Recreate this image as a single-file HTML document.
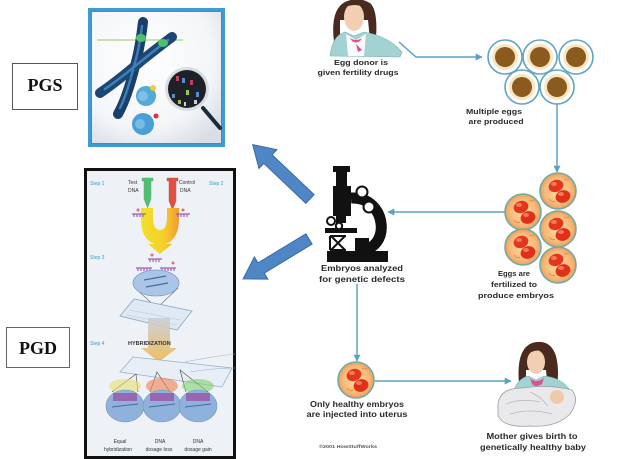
<!DOCTYPE html>
<html><head><meta charset="utf-8"><style>
html,body{margin:0;padding:0;background:#fff;}
svg{display:block;}
text{font-family:"Liberation Sans",Arial,sans-serif;}
</style></head><body>
<svg width="625" height="459" viewBox="0 0 625 459" xmlns="http://www.w3.org/2000/svg">
<defs>
 <radialGradient id="emb" cx="50%" cy="50%" r="50%">
  <stop offset="0" stop-color="#fcdca6"/><stop offset="0.75" stop-color="#f7b878"/><stop offset="1" stop-color="#ee9f58"/>
 </radialGradient>
 <radialGradient id="pgsbg" cx="40%" cy="35%" r="75%">
  <stop offset="0" stop-color="#ffffff"/><stop offset="0.7" stop-color="#f3f5f8"/><stop offset="1" stop-color="#d9dee6"/>
 </radialGradient>
 <linearGradient id="garrow" x1="0" y1="0" x2="0" y2="1">
  <stop offset="0" stop-color="#c9ced8"/><stop offset="1" stop-color="#f0b850"/>
 </linearGradient>
 <linearGradient id="yu" x1="0" y1="0" x2="1" y2="0">
  <stop offset="0" stop-color="#f2e02a"/><stop offset="0.6" stop-color="#f4d02a"/><stop offset="1" stop-color="#f29a30"/>
 </linearGradient>
 <marker id="ah" viewBox="0 0 10 10" refX="9" refY="5" markerUnits="userSpaceOnUse" markerWidth="7" markerHeight="7" orient="auto">
  <path d="M0,0 L10,5 L0,10 z" fill="#5aa2c4"/>
 </marker>
 <g id="embryo">
  <circle r="18" fill="url(#emb)" stroke="#72aaa6" stroke-width="1.6"/>
  <path d="M-9,8 q3,4 6,2 M6,-12 q3,2 5,0" stroke="#d98a40" stroke-width="0.8" fill="none"/>
  <ellipse cx="-2" cy="-5" rx="7.5" ry="6" transform="rotate(-20 -2 -5)" fill="#e3361d"/>
  <ellipse cx="5" cy="5.5" rx="7.5" ry="6.2" transform="rotate(-20 5 5.5)" fill="#e0301a"/>
  <ellipse cx="-4" cy="-7" rx="3" ry="2" fill="#f07a5a"/>
  <ellipse cx="3" cy="3" rx="3" ry="2" fill="#f07a5a"/>
 </g>
 <g id="egg">
  <circle r="17" fill="#fdfdfb" stroke="#5ea6c4" stroke-width="1.6"/>
  <circle r="13" fill="#f7e6bf"/>
  <circle r="10" fill="#8a5a1e"/>
 </g>
</defs>

<!-- PGS label box -->
<rect x="12.5" y="63.5" width="65" height="46" fill="#fff" stroke="#555" stroke-width="1"/>
<text x="45" y="91" text-anchor="middle" font-weight="bold" font-size="18" fill="#111" style="font-family:'Liberation Serif',serif">PGS</text>

<!-- PGD label box -->
<rect x="6.5" y="327.5" width="63" height="40" fill="#fff" stroke="#666" stroke-width="1"/>
<text x="38" y="354" text-anchor="middle" font-weight="bold" font-size="18" fill="#111" style="font-family:'Liberation Serif',serif">PGD</text>

<!-- PGS image -->
<rect x="89.5" y="9.5" width="134" height="136" fill="url(#pgsbg)" stroke="#3f9bd6" stroke-width="3"/>
<rect x="91.5" y="11.5" width="130" height="132" fill="none" stroke="#2a6fa8" stroke-width="0.8"/>
<line x1="97" y1="40" x2="183" y2="40" stroke="#bcd896" stroke-width="1.5"/>
<path d="M143,22 Q140,48 135,66 Q127,98 118,114" stroke="#1b3e6c" stroke-width="10" stroke-linecap="round" fill="none"/>
<path d="M172,37 Q152,52 135,66 Q116,82 100,93" stroke="#1d4677" stroke-width="10" stroke-linecap="round" fill="none"/>
<path d="M142,26 Q139,50 134,66 Q127,94 120,108" stroke="#3c7fb0" stroke-width="2.5" stroke-linecap="round" fill="none"/>
<path d="M168,40 Q150,54 134,67 Q118,80 105,89" stroke="#3c82b4" stroke-width="2.5" stroke-linecap="round" fill="none"/>
<ellipse cx="141" cy="38" rx="5" ry="4" fill="#4cc070"/>
<ellipse cx="163" cy="43" rx="5" ry="4" fill="#4cc070"/>
<circle cx="146" cy="96" r="10" fill="#55a8d8"/>
<circle cx="143" cy="124" r="11" fill="#4a9fd6"/>
<circle cx="143" cy="96" r="5" fill="#7cc0e6"/>
<circle cx="140" cy="124" r="5" fill="#78bce4"/>
<circle cx="153" cy="88" r="3" fill="#e8d030"/>
<circle cx="156" cy="116" r="2.5" fill="#e03040"/>
<line x1="203" y1="108" x2="220" y2="128" stroke="#1a2a3a" stroke-width="4" stroke-linecap="round"/>
<circle cx="187" cy="89" r="22" fill="#d8dde2"/>
<circle cx="187" cy="89" r="19" fill="#1c2228"/>
<g fill="#c04060"><rect x="176" y="76" width="3" height="5"/><rect x="190" y="80" width="3" height="5"/></g>
<g fill="#5a8acc"><rect x="182" y="78" width="3" height="5"/><rect x="196" y="92" width="3" height="5"/><rect x="172" y="94" width="3" height="4"/></g>
<g fill="#a0c050"><rect x="186" y="90" width="3" height="5"/><rect x="178" y="100" width="3" height="4"/></g>
<g fill="#d0d0d0"><rect x="194" y="100" width="3" height="4"/><rect x="184" y="102" width="2" height="4"/></g>

<!-- PGD image -->
<rect x="85.5" y="169.5" width="149" height="288" fill="#eef2f6" stroke="#111" stroke-width="3"/>
<g font-size="5" fill="#3a9cc4">
 <text x="90" y="185">Step 1</text>
 <text x="209" y="185">Step 2</text>
 <text x="90" y="259">Step 3</text>
 <text x="90" y="345">Step 4</text>
</g>
<g font-size="5" fill="#333">
 <text x="128" y="184">Test</text><text x="128" y="192">DNA</text>
 <text x="179" y="184">Control</text><text x="180" y="192">DNA</text>
</g>
<path d="M142,178 h11 v3 h-2 v18 l-3.5,9 l-3.5,-9 v-18 h-2z" fill="#50c070" stroke="#6a8" stroke-width="0.5"/>
<path d="M167,178 h11 v3 h-2 v20 l-3.5,9 l-3.5,-9 v-20 h-2z" fill="#e05040" stroke="#a66" stroke-width="0.5"/>
<path d="M141,208 h12 v8 q0,14 7,14 q7,0 7,-14 v-8 h12 v10 q0,22 -14,26 v0 h7 l-12,10 l-12,-10 h7 q-14,-4 -14,-26z" fill="url(#yu)"/>
<g stroke="#a060b8" stroke-width="1.2" fill="none">
 <path d="M132,214 h14 M134,214 v3 M137,214 v3 M140,214 v3 M143,214 v3"/>
 <path d="M176,214 h14 M178,214 v3 M181,214 v3 M184,214 v3 M187,214 v3"/>
 <path d="M148,259 h14 M150,259 v3 M153,259 v3 M156,259 v3 M159,259 v3"/>
 <path d="M136,268 h16 M138,268 v3 M141,268 v3 M144,268 v3 M147,268 v3 M150,268 v3"/>
 <path d="M160,268 h16 M162,268 v3 M165,268 v3 M168,268 v3 M171,268 v3 M174,268 v3"/>
</g>
<g fill="#e07070"><circle cx="138" cy="210" r="1.5"/><circle cx="183" cy="210" r="1.5"/><circle cx="152" cy="255" r="1.5"/><circle cx="173" cy="263" r="1.5"/></g>
<path d="M135,288 L157,308 L178,288" fill="none" stroke="#666" stroke-width="0.6"/>
<ellipse cx="156" cy="283" rx="23" ry="13" fill="#a9c6e6" stroke="#7a9ec8" stroke-width="0.8"/>
<g stroke="#4a6a9a" stroke-width="1.2"><line x1="144" y1="280" x2="166" y2="276"/><line x1="146" y1="287" x2="168" y2="283"/></g>
<path d="M120,316 L134,299 L192,311 L177,330 z" fill="#dfe9f4" stroke="#8aa6c6" stroke-width="0.8"/>
<g stroke="#b0c4dc" stroke-width="0.6"><line x1="130" y1="310" x2="180" y2="320"/><line x1="127" y1="315" x2="177" y2="325"/></g>
<path d="M148,318 h22 v30 h7 l-18,14 l-18,-14 h7z" fill="url(#garrow)" opacity="0.9"/>
<text x="128" y="345" font-size="5.5" font-weight="bold" fill="#333">HYBRIDIZATION</text>
<path d="M120,372 L133,357 L232,368 L222,387 z" fill="#e8eef6" stroke="#9ab0cc" stroke-width="0.8"/>
<path d="M185,362 q30,-6 50,-8 M190,372 q25,-4 45,-4" stroke="#9ab0cc" stroke-width="0.6" fill="none"/>
<g stroke="#444" stroke-width="0.6" fill="none">
 <path d="M112,392 L136,374 L138,392"/>
 <path d="M150,392 L157,372 L170,392"/>
 <path d="M186,392 L180,370 L208,392"/>
</g>
<ellipse cx="125" cy="386" rx="16" ry="7" fill="#e8e070" opacity="0.6"/>
<ellipse cx="162" cy="386" rx="16" ry="8" fill="#f08050" opacity="0.6"/>
<ellipse cx="198" cy="386" rx="16" ry="7" fill="#80d070" opacity="0.6"/>
<g fill="#8fb2dc" stroke="#7096c4" stroke-width="0.6">
 <ellipse cx="125" cy="406" rx="19" ry="16"/>
 <ellipse cx="162" cy="406" rx="19" ry="16"/>
 <ellipse cx="198" cy="406" rx="19" ry="16"/>
</g>
<g fill="#9a5aa8" opacity="0.85">
 <rect x="113" y="393" width="24" height="8"/><rect x="150" y="393" width="24" height="8"/><rect x="186" y="393" width="24" height="8"/>
</g>
<g stroke="#4a6a9a" stroke-width="1"><line x1="112" y1="407" x2="138" y2="404"/><line x1="149" y1="407" x2="175" y2="404"/><line x1="185" y1="407" x2="211" y2="404"/></g>
<g font-size="5" fill="#333" text-anchor="middle">
 <text x="120" y="443">Equal</text><text x="118" y="451">hybridization</text>
 <text x="160" y="443">DNA</text><text x="159" y="451">dosage loss</text>
 <text x="198" y="443">DNA</text><text x="198" y="451">dosage gain</text>
</g>

<!-- blue block arrows -->
<g fill="#4f86c6" stroke="#3b6aa6" stroke-width="1">
 <polygon transform="translate(310,199) rotate(223.5)" points="0,-6 58,-6 58,-13 79,0 58,13 58,6 0,6"/>
 <polygon transform="translate(309,239) rotate(148.8)" points="0,-6 56,-6 56,-13 77,0 56,13 56,6 0,6"/>
</g>

<!-- flow connectors -->
<g stroke="#5aa2c4" stroke-width="1.5" fill="none">
 <polyline points="399,42 416,57 482,57" marker-end="url(#ah)"/>
 <line x1="557" y1="104" x2="557" y2="172" marker-end="url(#ah)"/>
 <line x1="505" y1="212" x2="388" y2="212" marker-end="url(#ah)"/>
 <line x1="357" y1="284" x2="357" y2="361" marker-end="url(#ah)"/>
 <line x1="375" y1="381" x2="511" y2="381" marker-end="url(#ah)"/>
</g>

<!-- egg donor woman -->
<path d="M334,42 Q330,10 345,2 Q358,-4 370,3 Q378,10 376,38 L370,40 L368,20 L340,20 L340,44z" fill="#4a2a1e"/>
<ellipse cx="354" cy="17" rx="10" ry="14" fill="#f2cfb2"/>
<path d="M344,8 Q354,2 366,8 L366,5 Q354,-2 342,6z" fill="#4a2a1e"/>
<path d="M330,56 Q332,36 345,32 L354,36 L364,32 Q388,36 402,52 L400,57 z" fill="#a3d2d2" stroke="#7ab4b4" stroke-width="0.6"/>
<path d="M346,34 L356,40 L366,34 L364,56 L348,56z" fill="#fafafa"/>
<path d="M350,38 Q356,42 362,38 L360,41 Q356,44 352,41z M356,44 L362,50 L358,52z" fill="#e0508c"/>
<g font-size="7.5" font-weight="bold" fill="#2a2a2a" text-anchor="middle">
 <text x="361" y="65" textLength="54" lengthAdjust="spacingAndGlyphs">Egg donor is</text>
 <text x="358" y="75" textLength="81" lengthAdjust="spacingAndGlyphs">given fertility drugs</text>
</g>

<!-- eggs -->
<use href="#egg" x="505" y="57"/>
<use href="#egg" x="540" y="57"/>
<use href="#egg" x="576" y="57"/>
<use href="#egg" x="522" y="87"/>
<use href="#egg" x="557" y="87"/>
<g font-size="7.5" font-weight="bold" fill="#2a2a2a" text-anchor="middle">
 <text x="494" y="114" textLength="56" lengthAdjust="spacingAndGlyphs">Multiple eggs</text>
 <text x="496" y="124" textLength="55" lengthAdjust="spacingAndGlyphs">are produced</text>
</g>

<!-- embryos cluster -->
<use href="#embryo" x="558" y="191"/>
<use href="#embryo" x="523" y="212"/>
<use href="#embryo" x="558" y="229"/>
<use href="#embryo" x="523" y="247"/>
<use href="#embryo" x="558" y="265"/>
<g font-size="7.5" font-weight="bold" fill="#2a2a2a" text-anchor="middle">
 <text x="514" y="276" textLength="32" lengthAdjust="spacingAndGlyphs">Eggs are</text>
 <text x="514" y="287" textLength="46" lengthAdjust="spacingAndGlyphs">fertilized to</text>
 <text x="516" y="298" textLength="76" lengthAdjust="spacingAndGlyphs">produce embryos</text>
</g>

<!-- microscope -->
<g fill="#111">
 <rect x="333" y="166" width="17" height="6"/>
 <rect x="336" y="171" width="11" height="16"/>
 <rect x="333" y="186" width="18" height="30"/>
 <rect x="336" y="215" width="10" height="8"/>
 <rect x="325" y="228" width="32" height="5"/>
 <rect x="327" y="251" width="61" height="11"/>
 <rect x="355" y="238" width="14" height="16"/>
</g>
<path d="M351,198 C388,196 392,252 358,250" fill="none" stroke="#111" stroke-width="11"/>
<circle cx="362" cy="192" r="5.5" fill="#fff" stroke="#111" stroke-width="2"/>
<circle cx="369" cy="207" r="5.5" fill="#fff" stroke="#111" stroke-width="2"/>
<circle cx="331" cy="221" r="4" fill="#fff" stroke="#111" stroke-width="2"/>
<circle cx="339" cy="226" r="3.2" fill="#fff" stroke="#111" stroke-width="2"/>
<path d="M330,236 H346 M330,250 H346 M331,236 L345,250 M345,236 L331,250 M330,236 V250" stroke="#111" stroke-width="2" fill="none"/>
<g font-size="8" font-weight="bold" fill="#2a2a2a" text-anchor="middle">
 <text x="362" y="271" textLength="82" lengthAdjust="spacingAndGlyphs">Embryos analyzed</text>
 <text x="362" y="282" textLength="86" lengthAdjust="spacingAndGlyphs">for genetic defects</text>
</g>

<!-- single embryo -->
<use href="#embryo" x="356" y="380"/>
<g font-size="8" font-weight="bold" fill="#2a2a2a" text-anchor="middle">
 <text x="357" y="407" textLength="94" lengthAdjust="spacingAndGlyphs">Only healthy embryos</text>
 <text x="357" y="417" textLength="101" lengthAdjust="spacingAndGlyphs">are injected into uterus</text>
</g>
<text x="348" y="448" font-size="4.5" font-weight="bold" fill="#555" text-anchor="middle" textLength="58" lengthAdjust="spacingAndGlyphs">©2001 HowStuffWorks</text>

<!-- mother with baby -->
<path d="M520,392 Q514,350 532,343 Q550,338 556,356 Q560,372 556,392 L548,390 L546,370 L526,370 L526,394z" fill="#4a2a1e"/>
<ellipse cx="536" cy="362" rx="9" ry="12" fill="#f2cfb2"/>
<path d="M526,356 Q536,346 548,354 L548,350 Q536,340 524,352z" fill="#4a2a1e"/>
<path d="M512,400 Q514,380 528,376 L536,380 L544,376 Q566,378 574,398 L572,404 L514,404z" fill="#a3d2d2" stroke="#7ab4b4" stroke-width="0.6"/>
<path d="M530,378 Q536,384 544,378 L542,384 Q536,388 532,384z" fill="#e0508c"/>
<path d="M498,404 Q500,388 522,388 Q548,384 572,390 Q580,400 570,414 Q556,428 530,426 Q504,428 498,416z" fill="#e9e9ec" stroke="#9a9aa2" stroke-width="0.8"/>
<path d="M506,404 Q520,398 540,402 M510,414 Q530,408 552,414 M530,392 Q540,396 548,406" stroke="#b5b5bb" stroke-width="0.7" fill="none"/>
<circle cx="557" cy="397" r="7" fill="#f0c8ac"/>
<g font-size="8" font-weight="bold" fill="#2a2a2a" text-anchor="middle">
 <text x="532" y="439" textLength="91" lengthAdjust="spacingAndGlyphs">Mother gives birth to</text>
 <text x="533" y="450" textLength="106" lengthAdjust="spacingAndGlyphs">genetically healthy baby</text>
</g>
</svg>
</body></html>
